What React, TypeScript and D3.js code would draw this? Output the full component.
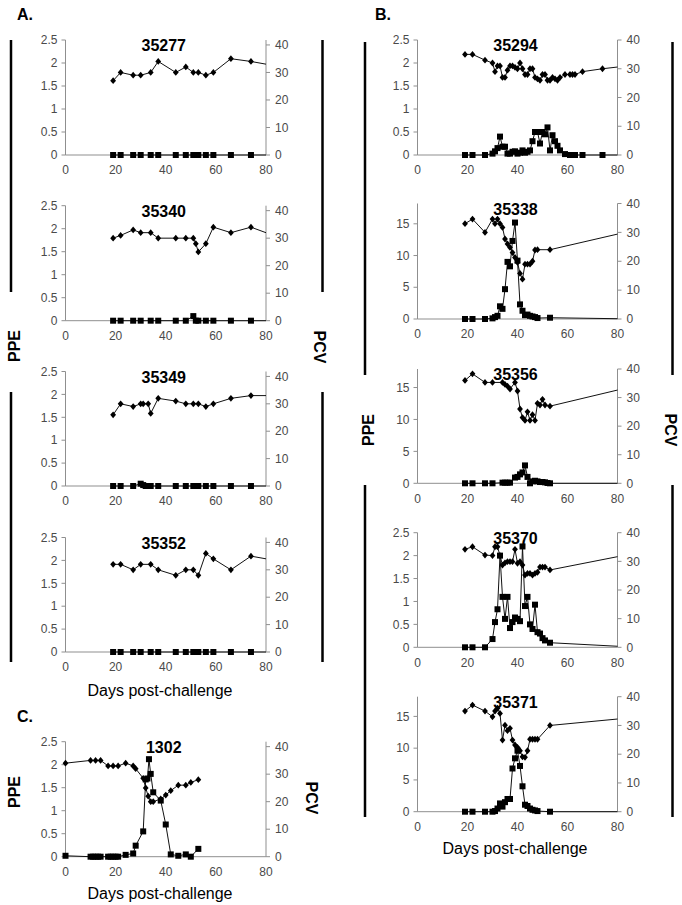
import { line, scaleLinear } from "d3";

// ---- data (days post-challenge, PCV on right axis, PPE on left axis) ----
// A. 35277
const pcvDays35277 = [19, 22, 27, 30, 34, 37, 44, 48, 51, 53, 56, 59, 66, 74, 88];
const pcv35277 = [27, 30, 29, 29, 30, 34, 30, 32, 30, 30, 29, 30, 35, 34, 31.7];
const ppeDays35277 = [19, 22, 27, 30, 34, 37, 44, 48, 51, 52, 53, 56, 59, 66, 74, 88];
const ppe35277 = [0, 0, 0, 0, 0, 0, 0, 0, 0, 0, 0, 0, 0, 0, 0, 0];

// A. 35340
const pcvDays35340 = [19, 22, 27, 30, 34, 37, 44, 48, 51, 52, 53, 56, 59, 66, 74, 88];
const pcv35340 = [30, 31, 33, 32, 32, 30, 30, 30, 30, 28, 25, 28, 34, 32, 34, 29.3];
const ppeDays35340 = [19, 22, 27, 30, 34, 37, 44, 48, 51, 52, 53, 56, 59, 66, 74, 88];
const ppe35340 = [0, 0, 0, 0, 0, 0, 0, 0, 0.1, 0, 0, 0, 0, 0, 0, 0];

// A. 35349
const pcvDays35349 = [19, 22, 27, 30, 31, 33, 34, 37, 44, 48, 51, 53, 56, 59, 66, 74, 88];
const pcv35349 = [26, 30, 29, 30, 30, 30, 26.5, 32, 31, 30, 30, 30, 29, 30, 32, 33, 33];
const ppeDays35349 = [19, 22, 27, 30, 31, 32, 33, 34, 37, 44, 48, 51, 52, 53, 56, 59, 66, 74, 88];
const ppe35349 = [0, 0, 0, 0.05, 0.02, 0, 0, 0, 0, 0, 0, 0, 0, 0, 0, 0, 0, 0, 0];

// A. 35352
const pcvDays35352 = [19, 22, 27, 30, 34, 37, 44, 48, 51, 53, 56, 59, 66, 74, 88];
const pcv35352 = [32, 32, 30, 32, 32, 30, 28, 30, 30, 28, 36, 34, 30, 35, 32.7];
const ppeDays35352 = [19, 22, 27, 30, 34, 37, 44, 48, 51, 52, 53, 56, 59, 66, 74, 88];
const ppe35352 = [0, 0, 0, 0, 0, 0, 0, 0, 0, 0, 0, 0, 0, 0, 0, 0];

// C. 1302
const pcvDays1302 = [0, 10, 12, 14, 17, 19, 21, 24, 27, 28, 31, 32, 33, 34, 35, 38, 40, 42, 45, 48, 50, 53];
const pcv1302 = [34, 35, 35, 35, 33, 33, 33, 34, 33, 32, 28.5, 25, 22, 20, 20, 21, 22.4, 24, 26, 26, 27, 28];
const ppeDays1302 = [0, 10, 11, 12, 13, 14, 17, 18, 19, 20, 21, 24, 27, 28, 31, 32, 32.7, 33.3, 34, 35, 38, 40, 42, 45, 48, 50, 53];
const ppe1302 = [0.02, 0, 0, 0, 0, 0, 0, 0, 0, 0, 0, 0.04, 0.07, 0.24, 0.55, 1.68, 1.7, 2.12, 1.8, 1.4, 1.22, 0.7, 0.05, 0.02, 0.05, 0, 0.17];

// B. 35294
const days35294 = [19, 22, 27, 30, 31, 32, 33, 34, 35, 36, 37, 38, 39, 40, 41, 42, 43, 44, 45, 46, 47, 48, 49, 50, 51, 52, 53, 54, 55, 56, 57, 59, 61, 62, 63, 66, 74, 88];
const pcv35294 = [35, 35, 33, 32, 29, 31, 31, 27, 27, 29.5, 31, 31, 30.5, 30, 32, 30, 28, 28, 30, 30, 27, 26.5, 26, 28, 28, 26, 26, 27, 26.5, 26, 27, 28, 28, 28, 28, 29, 30, 31.4];
const ppe35294 = [0, 0, 0, 0.03, 0.08, 0.15, 0.4, 0.18, 0.18, 0.03, 0.03, 0.07, 0.08, 0.03, 0.05, 0.1, 0.05, 0.07, 0.1, 0.3, 0.5, 0.5, 0.25, 0.5, 0.45, 0.6, 0.1, 0.43, 0.3, 0.2, 0.1, 0.02, 0, 0, 0, 0, 0, 0];

// B. 35338
const days35338 = [19, 22, 27, 30, 31, 32, 33, 34, 35, 36, 37, 38, 39, 40, 41, 42, 43, 44, 45, 46, 47, 48, 53, 88];
const pcv35338 = [33, 34.6, 30, 34.6, 33, 34.6, 33, 31.7, 27.7, 26, 24.8, 23, 21.3, 19.6, 15.8, 13.8, 19, 19, 19, 20, 23.9, 24, 24, 31];
const ppe35338 = [0, 0, 0, 0.1, 0.3, 0.5, 2, 1.6, 4.7, 9, 8.3, 12.3, 15.2, 9.2, 2.3, 1.3, 0.6, 0.7, 0.5, 0.4, 0.3, 0.15, 0.2, 0];

// B. 35356
const pcvDays35356 = [19, 22, 27, 30, 34, 35, 36, 37, 39, 40, 41, 42, 43, 44, 45, 46, 47, 48, 49, 50, 51, 53, 88];
const pcv35356 = [36, 38.3, 35.3, 35.3, 35.3, 34.6, 34, 33, 35.3, 32.3, 26, 23, 22, 25, 22, 24, 22, 28, 27.4, 29.4, 27.4, 27, 34.3];
const ppeDays35356 = [19, 22, 27, 30, 34, 35, 36, 37, 39, 40, 41, 42, 43, 44, 45, 46, 47, 48, 49, 50, 51, 52, 53, 88];
const ppe35356 = [0, 0, 0, 0, 0.1, 0.1, 0.1, 0.1, 0.9, 1, 1.4, 1.7, 2.8, 1.0, 0, 0.3, 0.4, 0.3, 0.2, 0.2, 0.15, 0.05, 0, 0];

// B. 35370
const days35370 = [19, 22, 27, 30, 31, 32, 33, 34, 35, 36, 37, 38, 39, 40, 41, 42, 43, 44, 45, 46, 47, 48, 49, 50, 51, 53, 88];
const pcv35370 = [34.2, 35.1, 32.2, 32, 35.1, 35.1, 32, 28.7, 29.5, 29.9, 29.9, 29.9, 34.2, 29.3, 29.9, 28.7, 25.2, 25.8, 25.8, 25.2, 25.8, 26.2, 28, 28, 28, 27, 33];
const ppe35370 = [0, 0, 0, 0.18, 0.55, 0.83, 2.0, 1.1, 0.62, 1.1, 0.42, 0.55, 0.65, 0.62, 0.57, 2.2, 0.9, 1.1, 0.5, 0.4, 0.93, 0.33, 0.3, 0.2, 0.15, 0.1, 0];

// B. 35371
const days35371 = [19, 22, 27, 30, 31, 32, 33, 34, 35, 36, 37, 38, 39, 40, 41, 42, 43, 44, 45, 46, 47, 48, 53, 88];
const pcv35371 = [35, 37.1, 35, 33, 35, 36, 34.2, 24.9, 30.1, 28.2, 29, 24.9, 23.2, 22.4, 21.2, 19.1, 18.9, 21.2, 25.2, 25.2, 25.2, 25.2, 30, 32.9];
const ppe35371 = [0, 0, 0, 0, 0.1, 0.5, 1.3, 0.8, 1.5, 2.0, 2.0, 6.8, 8.4, 9.6, 7.2, 4, 1.1, 0.9, 0.5, 0.3, 0.2, 0.1, 0, 0];

const xTicks = [0, 20, 40, 60, 80];
const smallTicks = [0, 0.5, 1, 1.5, 2, 2.5];
const bigTicks = [0, 5, 10, 15];
const pcvTicks = [0, 10, 20, 30, 40];

const FONT = "'Liberation Sans', Arial, sans-serif";
const AX = "#8f8f8f";
const LBL = "#4a4a4a";

type Panel = {
  title: string;
  x0: number;
  x1: number;
  top: number;
  bottom: number;
  leftMax: number;
  leftTicks: number[];
  rightMax: number;
  pcvDays: number[];
  pcv: number[];
  ppeDays: number[];
  ppe: number[];
};

const AX0 = 65.5, AX1 = 266;
const BX0 = 417.5, BX1 = 617.5;

const panels: Panel[] = [
  { title: "35277", x0: AX0, x1: AX1, top: 40, bottom: 155, leftMax: 2.5, leftTicks: smallTicks, rightMax: 41.8, pcvDays: pcvDays35277, pcv: pcv35277, ppeDays: ppeDays35277, ppe: ppe35277 },
  { title: "35340", x0: AX0, x1: AX1, top: 205.7, bottom: 320.7, leftMax: 2.5, leftTicks: smallTicks, rightMax: 41.8, pcvDays: pcvDays35340, pcv: pcv35340, ppeDays: ppeDays35340, ppe: ppe35340 },
  { title: "35349", x0: AX0, x1: AX1, top: 371.5, bottom: 486, leftMax: 2.5, leftTicks: smallTicks, rightMax: 41.8, pcvDays: pcvDays35349, pcv: pcv35349, ppeDays: ppeDays35349, ppe: ppe35349 },
  { title: "35352", x0: AX0, x1: AX1, top: 537.5, bottom: 652, leftMax: 2.5, leftTicks: smallTicks, rightMax: 41.8, pcvDays: pcvDays35352, pcv: pcv35352, ppeDays: ppeDays35352, ppe: ppe35352 },
  { title: "1302", x0: AX0, x1: AX1, top: 741.7, bottom: 856.7, leftMax: 2.5, leftTicks: smallTicks, rightMax: 41.8, pcvDays: pcvDays1302, pcv: pcv1302, ppeDays: ppeDays1302, ppe: ppe1302 },
  { title: "35294", x0: BX0, x1: BX1, top: 40, bottom: 155, leftMax: 2.5, leftTicks: smallTicks, rightMax: 40, pcvDays: days35294, pcv: pcv35294, ppeDays: days35294, ppe: ppe35294 },
  { title: "35338", x0: BX0, x1: BX1, top: 203.5, bottom: 319, leftMax: 18.2, leftTicks: bigTicks, rightMax: 40, pcvDays: days35338, pcv: pcv35338, ppeDays: days35338, ppe: ppe35338 },
  { title: "35356", x0: BX0, x1: BX1, top: 369, bottom: 483.3, leftMax: 17.9, leftTicks: bigTicks, rightMax: 40, pcvDays: pcvDays35356, pcv: pcv35356, ppeDays: ppeDays35356, ppe: ppe35356 },
  { title: "35370", x0: BX0, x1: BX1, top: 532.7, bottom: 647.3, leftMax: 2.5, leftTicks: smallTicks, rightMax: 40, pcvDays: days35370, pcv: pcv35370, ppeDays: days35370, ppe: ppe35370 },
  { title: "35371", x0: BX0, x1: BX1, top: 696.7, bottom: 811.7, leftMax: 18.1, leftTicks: bigTicks, rightMax: 40, pcvDays: days35371, pcv: pcv35371, ppeDays: days35371, ppe: ppe35371 },
];

const ChartPanel = ({ p, idx }: { p: Panel; idx: number }) => {
  const x = scaleLinear().domain([0, 80]).range([p.x0, p.x1]);
  const yL = scaleLinear().domain([0, p.leftMax]).range([p.bottom, p.top]);
  const yR = scaleLinear().domain([0, p.rightMax]).range([p.bottom, p.top]);

  const pcvPts = p.pcvDays.map((d, i) => [d, p.pcv[i]] as [number, number]);
  const ppePts = p.ppeDays.map((d, i) => [d, p.ppe[i]] as [number, number]);

  const pcvLine = line<[number, number]>().x((d) => x(d[0])).y((d) => yR(d[1]));
  const ppeLine = line<[number, number]>().x((d) => x(d[0])).y((d) => yL(d[1]));

  const clipId = `clip-${idx}`;
  return (
    <g>
      <defs>
        <clipPath id={clipId}>
          <rect x={p.x0} y={p.top - 10} width={p.x1 - p.x0} height={p.bottom - p.top + 20} />
        </clipPath>
      </defs>
      {/* axes */}
      <line x1={p.x0} x2={p.x0} y1={p.top} y2={p.bottom} stroke={AX} />
      <line x1={p.x1} x2={p.x1} y1={p.top} y2={p.bottom} stroke={AX} />
      <line x1={p.x0} x2={p.x1} y1={p.bottom} y2={p.bottom} stroke={AX} />
      {p.leftTicks.map((t) => (
        <g key={`l${t}`}>
          <line x1={p.x0 - 4} x2={p.x0} y1={yL(t)} y2={yL(t)} stroke={AX} />
          <text x={p.x0 - 8} y={yL(t)} dy="0.35em" textAnchor="end" fontSize={12} fill={LBL} fontFamily={FONT}>
            {String(t)}
          </text>
        </g>
      ))}
      {pcvTicks.map((t) => (
        <g key={`r${t}`}>
          <line x1={p.x1} x2={p.x1 + 4} y1={yR(t)} y2={yR(t)} stroke={AX} />
          <text x={p.x1 + 9} y={yR(t)} dy="0.35em" textAnchor="start" fontSize={12} fill={LBL} fontFamily={FONT}>
            {t}
          </text>
        </g>
      ))}
      {xTicks.map((t) => (
        <text key={`x${t}`} x={x(t)} y={p.bottom + 15} dy="0.35em" textAnchor="middle" fontSize={12} fill={LBL} fontFamily={FONT}>
          {t}
        </text>
      ))}
      {/* series */}
      <g clipPath={`url(#${clipId})`}>
        <path d={pcvLine(pcvPts) ?? ""} fill="none" stroke="#111" strokeWidth={1} />
        <path d={ppeLine(ppePts) ?? ""} fill="none" stroke="#111" strokeWidth={1} />
      </g>
      {pcvPts
        .filter((d) => d[0] <= 80)
        .map((d, i) => (
          <path
            key={`d${i}`}
            transform={`translate(${x(d[0])},${yR(d[1])})`}
            d="M0,-3.4L2.9,0L0,3.4L-2.9,0Z"
            fill="#000"
          />
        ))}
      {ppePts
        .filter((d) => d[0] <= 80)
        .map((d, i) => (
          <rect key={`s${i}`} x={x(d[0]) - 3} y={yL(d[1]) - 3} width={6} height={6} fill="#000" />
        ))}
      <text x={(p.x0 + p.x1) / 2 - 2} y={p.top + 11} textAnchor="middle" fontSize={16} fontWeight="bold" fill="#000" fontFamily={FONT}>
        {p.title}
      </text>
    </g>
  );
};

const Bracket = ({ x, y1, y2 }: { x: number; y1: number; y2: number }) => (
  <line x1={x} x2={x} y1={y1} y2={y2} stroke="#000" strokeWidth={2.5} />
);

const VLabel = ({ x, y, text, rot }: { x: number; y: number; text: string; rot: number }) => (
  <text
    x={x}
    y={y}
    transform={`rotate(${rot},${x},${y})`}
    textAnchor="middle"
    dominantBaseline="central"
    fontSize={16}
    fontWeight="bold"
    fontFamily={FONT}
    fill="#000"
  >
    {text}
  </text>
);

export default function App() {
  return (
    <svg width={682} height={905} style={{ position: "absolute", left: 0, top: 0, background: "#fff" }}>
      <rect width={682} height={905} fill="#fff" />
      <text x={17} y={20} fontSize={16} fontWeight="bold" fontFamily={FONT}>A.</text>
      <text x={375} y={20} fontSize={16} fontWeight="bold" fontFamily={FONT}>B.</text>
      <text x={17} y={722} fontSize={16} fontWeight="bold" fontFamily={FONT}>C.</text>

      <Bracket x={11} y1={40} y2={292} />
      <Bracket x={11} y1={392} y2={662} />
      <Bracket x={322.5} y1={40} y2={292} />
      <Bracket x={322.5} y1={392} y2={662} />
      <Bracket x={365} y1={42} y2={375} />
      <Bracket x={365} y1={485} y2={817} />
      <Bracket x={672.5} y1={42} y2={375} />
      <Bracket x={672.5} y1={485} y2={817} />

      <VLabel x={14} y={346} text="PPE" rot={-90} />
      <VLabel x={319} y={347} text="PCV" rot={90} />
      <VLabel x={368} y={430} text="PPE" rot={-90} />
      <VLabel x={670} y={430} text="PCV" rot={90} />
      <VLabel x={14.5} y={792} text="PPE" rot={-90} />
      <VLabel x={311} y={798} text="PCV" rot={90} />

      {panels.map((p, i) => (
        <ChartPanel key={p.title} p={p} idx={i} />
      ))}

      <text x={160} y={690} dy="0.35em" textAnchor="middle" fontSize={16} fontFamily={FONT}>Days post-challenge</text>
      <text x={160} y={893} dy="0.35em" textAnchor="middle" fontSize={16} fontFamily={FONT}>Days post-challenge</text>
      <text x={515} y={848} dy="0.35em" textAnchor="middle" fontSize={16} fontFamily={FONT}>Days post-challenge</text>
    </svg>
  );
}
